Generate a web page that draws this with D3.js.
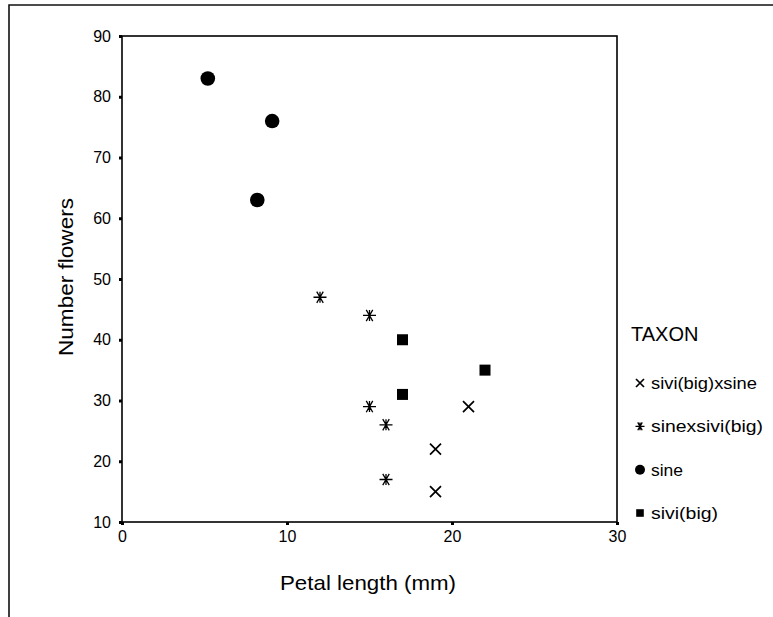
<!DOCTYPE html>
<html><head><meta charset="utf-8">
<script src="https://cdn.jsdelivr.net/npm/d3@7"></script>
<style>body{margin:0;background:#fff;}svg{display:block;font-family:"Liberation Sans",Arial,sans-serif;}</style>
</head><body><svg id="c" width="773" height="617"></svg>
<script>
const taxa = ["sivi(big)xsine","sinexsivi(big)","sine","sivi(big)"];
const crossX = [21,19,19];
const crossY = [29,22,15];
const starX = [12,15,15,16,16];
const starY = [47,44,29,26,17];
const sineX = [5.2,9.1,8.2];
const sineY = [83,76,63];
const sqX = [17,22,17];
const sqY = [40,35,31];
const xTicks = [0,10,20,30];
const yTicks = [10,20,30,40,50,60,70,80,90];

const svg = d3.select("#c");
const L=122,R=617,T=36,B=522;
const x = d3.scaleLinear().domain([0,30]).range([L,R]);
const y = d3.scaleLinear().domain([10,90]).range([B,T]);

// outer frame
svg.append("path").attr("d","M9,617V5H773").attr("fill","none").attr("stroke","#111").attr("stroke-width",1.6);
// plot frame
svg.append("rect").attr("x",L).attr("y",T).attr("width",R-L).attr("height",B-T)
  .attr("fill","none").attr("stroke","#000").attr("stroke-width",1.6);

const xa = svg.append("g").attr("transform",`translate(0,${B})`)
  .call(d3.axisBottom(x).tickValues(xTicks).tickSize(3).tickPadding(6));
const ya = svg.append("g").attr("transform",`translate(${L},0)`)
  .call(d3.axisLeft(y).tickValues(yTicks).tickSize(3).tickPadding(8));
[xa,ya].forEach(a=>{a.select(".domain").remove();
  a.selectAll("line").attr("stroke","#000").attr("stroke-width",3);
  a.selectAll("text").attr("font-size",16).attr("fill","#000").attr("font-family","Liberation Sans, Arial, sans-serif");});

svg.append("text").attr("x",368).attr("y",590).attr("text-anchor","middle").attr("font-size",21)
  .attr("textLength",176).attr("lengthAdjust","spacingAndGlyphs").text("Petal length (mm)");
svg.append("text").attr("transform","translate(73,277) rotate(-90)").attr("text-anchor","middle").attr("font-size",21)
  .attr("textLength",158).attr("lengthAdjust","spacingAndGlyphs").text("Number flowers");

function drawCross(g,s){g.append("path").attr("d",`M${-s},${-s}L${s},${s}M${-s},${s}L${s},${-s}`).attr("stroke","#000").attr("stroke-width",1.7).attr("fill","none");}
function drawStar(g,s){const a=[0,60,120,180,240,300].map(d=>d*Math.PI/180);
  let d=""; a.forEach(t=>{d+=`M0,0L${(s*Math.cos(t)).toFixed(2)},${(s*Math.sin(t)).toFixed(2)}`;});
  d+=`M0,${-s*0.85}L0,${s*0.85}`;
  g.append("path").attr("d",d).attr("stroke","#000").attr("stroke-width",1.3).attr("fill","none");}
function drawCircle(g,r){g.append("circle").attr("r",r).attr("fill","#000");}
function drawSquare(g,s){g.append("rect").attr("x",-s).attr("y",-s).attr("width",2*s).attr("height",2*s).attr("fill","#000");}

const pts = svg.append("g");
crossX.forEach((v,i)=>drawCross(pts.append("g").attr("transform",`translate(${x(v)},${y(crossY[i])})`),5.5));
starX.forEach((v,i)=>drawStar(pts.append("g").attr("transform",`translate(${x(v)},${y(starY[i])})`),6.5));
sineX.forEach((v,i)=>drawCircle(pts.append("g").attr("transform",`translate(${x(v)},${y(sineY[i])})`),7.3));
sqX.forEach((v,i)=>drawSquare(pts.append("g").attr("transform",`translate(${x(v)},${y(sqY[i])})`),5.5));

// legend
const lg = svg.append("g");
lg.append("text").attr("x",631).attr("y",341).attr("font-size",20).text("TAXON");
const drawers=[g=>drawCross(g,4),g=>drawStar(g,4.5),g=>drawCircle(g,5),g=>drawSquare(g,3.8)];
const rowY=d3.scalePoint().domain(taxa).range([383,513]);
const widths={"sivi(big)xsine":106,"sinexsivi(big)":112,"sine":32,"sivi(big)":67};
taxa.forEach((t,i)=>{
  const cy=rowY(t);
  drawers[i](lg.append("g").attr("transform",`translate(640,${cy})`));
  lg.append("text").attr("x",651).attr("y",cy+6).attr("font-size",17)
    .attr("textLength",widths[t]).attr("lengthAdjust","spacingAndGlyphs").text(t);
});
</script></body></html>
